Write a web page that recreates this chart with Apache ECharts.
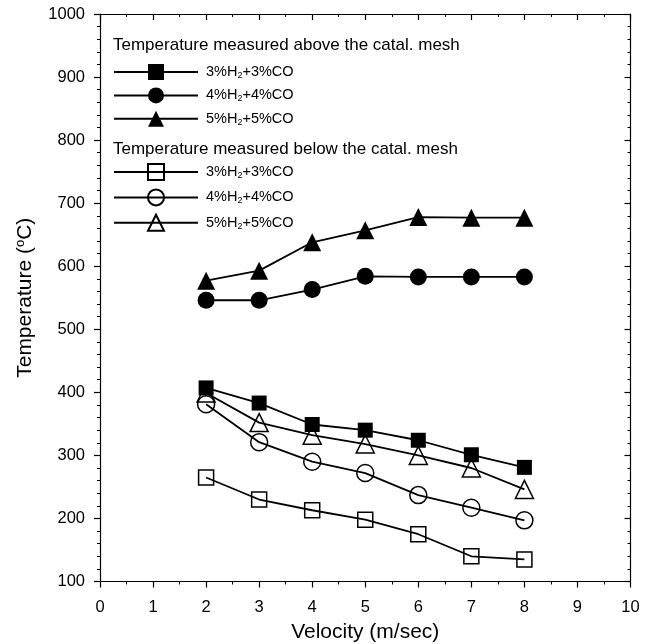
<!DOCTYPE html>
<html>
<head>
<meta charset="utf-8">
<script src="https://cdn.jsdelivr.net/npm/echarts@6/dist/echarts.min.js"></script>
<style>html,body{margin:0;padding:0;background:#fff}#c{width:650px;height:644px}</style>
</head>
<body>
<div id="c"></div>
<script>
var velocity = [2, 3, 4, 5, 6, 7, 8];
var above3 = [407, 383, 349, 340, 324, 301, 281];
var above4 = [546, 546, 563, 584, 583, 583, 583];
var above5 = [577, 593, 638, 657, 678, 677, 677];
var below3 = [265, 230, 213, 198, 175, 140, 135];
var below4 = [381, 321, 290, 272, 237, 217, 197];
var below5 = [399, 352, 332, 318, 300, 280, 246];
var xTicks = [0, 1, 2, 3, 4, 5, 6, 7, 8, 9, 10];
var yTicks = [100, 200, 300, 400, 500, 600, 700, 800, 900, 1000];

var FONT = 'Liberation Sans, Arial, sans-serif';
var names = {
  'a3': '{t|3%H}{s|2}{t|+3%CO}', 'a4': '{t|4%H}{s|2}{t|+4%CO}', 'a5': '{t|5%H}{s|2}{t|+5%CO}',
  'b3': '{t|3%H}{s|2}{t|+3%CO}', 'b4': '{t|4%H}{s|2}{t|+4%CO}', 'b5': '{t|5%H}{s|2}{t|+5%CO}'
};
function pairs(v) { return velocity.map(function (x, i) { return [x, v[i]]; }); }
function mk(name, data, symbol, filled) {
  return {
    name: name, type: 'line', data: pairs(data), symbol: symbol,
    symbolSize: symbol === 'triangle' ? 18 : (symbol === 'rect' ? 15 : 17),
    showSymbol: true,
    lineStyle: { color: '#000', width: 1.8 },
    itemStyle: filled ? { color: '#000', borderColor: '#000', borderWidth: 0 }
                      : { color: 'rgba(0,0,0,0)', borderColor: '#000', borderWidth: 1.5 },
    emphasis: { disabled: true },
    animation: false, z: filled ? 3 : 2
  };
}
var rich = {
  t: { fontFamily: FONT, fontSize: 14.5, color: '#000' },
  s: { fontFamily: FONT, fontSize: 9, color: '#000', verticalAlign: 'bottom', padding: [7, 0, 0, 0] }
};
var legendBase = {
  orient: 'vertical', left: 108, itemWidth: 84, itemHeight: 20, itemGap: 7.4,
  selectedMode: false,
  formatter: function (n) { return names[n]; },
  textStyle: { rich: rich, padding: [0, 0, 0, 3] }
};
var axisLineStyle = { color: '#000', width: 1.2 };
var chart = echarts.init(document.getElementById('c'), null, { renderer: 'canvas' });
chart.setOption({
  backgroundColor: '#fff',
  animation: false,
  grid: { left: 100, right: 19.5, top: 14, bottom: 62.5, outerBoundsMode: 'none', containLabel: false },
  legend: [
    Object.assign({}, legendBase, { top: 59, data: ['a3', 'a4', 'a5'] }),
    Object.assign({}, legendBase, { top: 158, data: ['b3', 'b4', 'b5'] })
  ],
  graphic: [
    { type: 'text', left: 113, top: 37, style: { text: 'Temperature measured above the catal. mesh', font: '17px ' + FONT, fill: '#000' } },
    { type: 'text', left: 113, top: 141, style: { text: 'Temperature measured below the catal. mesh', font: '17px ' + FONT, fill: '#000' } }
  ],
  xAxis: [{
    type: 'value', min: xTicks[0], max: xTicks[xTicks.length - 1], interval: 1,
    name: 'Velocity (m/sec)', nameLocation: 'middle', nameGap: 40,
    nameTextStyle: { fontFamily: FONT, fontSize: 21, color: '#000' },
    axisLine: { show: true, onZero: false, lineStyle: axisLineStyle },
    axisTick: { show: true, inside: false, length: 6, lineStyle: axisLineStyle },
    minorTick: { show: true, splitNumber: 2, length: 3, lineStyle: { color: '#000', width: 1 } },
    axisLabel: { fontFamily: FONT, fontSize: 16.5, color: '#000', margin: 17 },
    splitLine: { show: false }
  }, {
    type: 'value', position: 'top', min: 0, max: 10, interval: 1,
    axisLine: { show: true, onZero: false, lineStyle: axisLineStyle },
    axisTick: { show: true, inside: true, length: 6, lineStyle: axisLineStyle },
    minorTick: { show: true, splitNumber: 2, length: 3, lineStyle: { color: '#000', width: 1 } },
    axisLabel: { show: false }, splitLine: { show: false }
  }],
  yAxis: [{
    type: 'value', min: yTicks[0], max: yTicks[yTicks.length - 1], interval: 100,
    name: '{t|Temperature (}{p|o}{t|C)}', nameLocation: 'middle', nameGap: 64, nameRotate: 90,
    nameTextStyle: { rich: {
      t: { fontFamily: FONT, fontSize: 21, color: '#000' },
      p: { fontFamily: FONT, fontSize: 13, color: '#000', verticalAlign: 'top', padding: [0, 0, 9, 0] }
    } },
    axisLine: { show: true, onZero: false, lineStyle: axisLineStyle },
    axisTick: { show: true, inside: false, length: 6, lineStyle: axisLineStyle },
    minorTick: { show: true, splitNumber: 5, length: 3, lineStyle: { color: '#000', width: 1 } },
    axisLabel: { fontFamily: FONT, fontSize: 16.5, color: '#000', margin: 15, formatter: function (v) { return String(v); } },
    splitLine: { show: false }
  }, {
    type: 'value', position: 'right', min: 100, max: 1000, interval: 100,
    axisLine: { show: true, onZero: false, lineStyle: axisLineStyle },
    axisTick: { show: true, inside: true, length: 6, lineStyle: axisLineStyle },
    minorTick: { show: true, splitNumber: 5, length: 3, lineStyle: { color: '#000', width: 1 } },
    axisLabel: { show: false }, splitLine: { show: false }
  }],
  series: [
    mk('a3', above3, 'rect', true),
    mk('a4', above4, 'circle', true),
    mk('a5', above5, 'triangle', true),
    mk('b3', below3, 'rect', false),
    mk('b4', below4, 'circle', false),
    mk('b5', below5, 'triangle', false)
  ]
});
</script>
</body>
</html>
